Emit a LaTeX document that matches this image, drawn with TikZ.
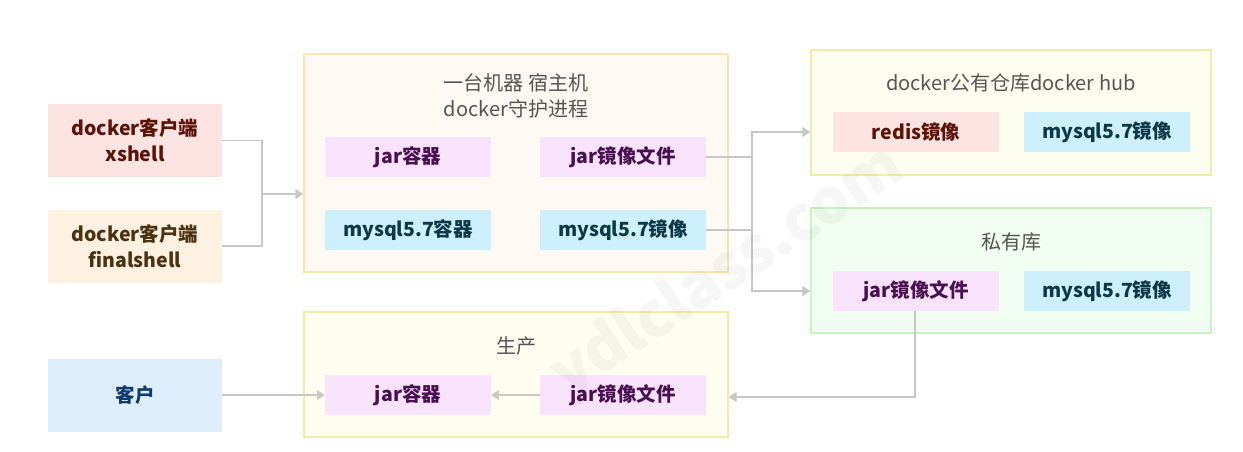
\documentclass[tikz,border=0pt]{standalone}
\usepackage{fontspec}
\setmainfont{Noto Sans CJK SC}
\usetikzlibrary{arrows.meta,positioning}
\definecolor{conn}{HTML}{C8C8C8}
\definecolor{pinkF}{HTML}{FDE3E1}\definecolor{pinkT}{HTML}{5C1408}
\definecolor{tanF}{HTML}{FDF1E2}\definecolor{tanT}{HTML}{4A3212}
\definecolor{blueF}{HTML}{DEEEFC}\definecolor{blueT}{HTML}{0F3C6E}
\definecolor{violF}{HTML}{F9E3FC}\definecolor{violT}{HTML}{4A0F52}
\definecolor{cyanF}{HTML}{CDF0FC}\definecolor{cyanT}{HTML}{0D3848}
\definecolor{hostF}{HTML}{FEF9F2}\definecolor{hostB}{HTML}{FCE2B4}
\definecolor{ylwF}{HTML}{FEFEF0}\definecolor{ylwB}{HTML}{F0EEA6}
\definecolor{grnF}{HTML}{F1FDF0}\definecolor{grnB}{HTML}{C8F4C2}
\definecolor{titleT}{HTML}{555555}
\tikzset{
  box/.style={draw=none,minimum width=166pt,minimum height=40pt,inner sep=0pt,
    font=\fontsize{19.5}{22}\selectfont\bfseries,align=center},
  client/.style={draw=none,minimum width=174pt,minimum height=73pt,inner sep=0pt,
    font=\fontsize{19.5}{26}\selectfont\bfseries,align=center},
  grp/.style={line width=1.2pt,inner sep=0pt},
  gtitle/.style={font=\fontsize{20}{26}\selectfont,text=titleT,align=center,inner sep=0pt},
  conn/.style={draw=conn,line width=1.4pt},
  carrow/.style={conn,-{Triangle[width=10pt,length=8pt,fill=conn]}},
}
\begin{document}
\begin{tikzpicture}[x=1pt,y=-1pt]
\useasboundingbox (0,0) rectangle (1243,451);
% groups
\node[grp,draw=hostB,fill=hostF,minimum width=424pt,minimum height=218pt] (host) at (516,163) {};
\node[grp,draw=ylwB,fill=ylwF,minimum width=400pt,minimum height=125pt] (hub) at (1011,112.5) {};
\node[grp,draw=grnB,fill=grnF,minimum width=400pt,minimum height=125pt] (priv) at (1011,270.5) {};
\node[grp,draw=ylwB,fill=ylwF,minimum width=424pt,minimum height=125pt] (prod) at (516,374.5) {};
% titles
\node[gtitle] (hostT) at (516,96) {一台机器 宿主机\\docker守护进程};
\node[gtitle] (hubT) at (1011,83) {docker公有仓库docker hub};
\node[gtitle] (privT) at (1011,242) {私有库};
\node[gtitle] (prodT) at (516,346) {生产};
% clients
\node[client,fill=pinkF,text=pinkT] (xshell) at (135,140.5) {docker客户端\\xshell};
\node[client,fill=tanF,text=tanT] (final) at (135,246) {docker客户端\\finalshell};
\node[client,fill=blueF,text=blueT] (cust) at (135,395) {客户};
% host inner
\node[box,fill=violF,text=violT] (hjc) at (408,157) {jar容器};
\node[box,fill=violF,text=violT] (hji) at (623,157) {jar镜像文件};
\node[box,fill=cyanF,text=cyanT] (hmc) at (408,230) {mysql5.7容器};
\node[box,fill=cyanF,text=cyanT] (hmi) at (623,230) {mysql5.7镜像};
% hub inner
\node[box,fill=pinkF,text=pinkT] (redis) at (916,132) {redis镜像};
\node[box,fill=cyanF,text=cyanT] (hubm) at (1107,132) {mysql5.7镜像};
% private inner
\node[box,fill=violF,text=violT] (pji) at (916,291) {jar镜像文件};
\node[box,fill=cyanF,text=cyanT] (pmi) at (1107,291) {mysql5.7镜像};
% prod inner
\node[box,fill=violF,text=violT] (djc) at (408,395) {jar容器};
\node[box,fill=violF,text=violT] (dji) at (623,395) {jar镜像文件};
% connectors
\coordinate (j1) at (262,194);
\draw[conn] (xshell.east) -| (j1);
\draw[conn] (final.east) -| (j1);
\draw[carrow] (j1) -- (host.west |- j1);
\coordinate (j2) at (752,157);
\coordinate (j3) at (752,230);
\draw[conn] (hji.east) -- (j2);
\draw[conn] (hmi.east) -- (j3);
\draw[conn] (j2) -- (j3);
\draw[carrow] (j2) |- (hub.west |- redis.west);
\draw[carrow] (j3) |- (priv.west |- pji.west);
\coordinate (j4) at (915,397);
\draw[carrow] (pji.south -| j4) -- (j4) -- (prod.east |- j4);
\draw[carrow] (cust.east) -- (djc.west);
\draw[carrow] (dji.west) -- (djc.east);
% watermark
\node[rotate=33,font=\fontsize{62}{64}\selectfont\bfseries,text=black,opacity=0.035] (wm) at (728,272) {ydlclass.com};
\end{tikzpicture}
\end{document}
